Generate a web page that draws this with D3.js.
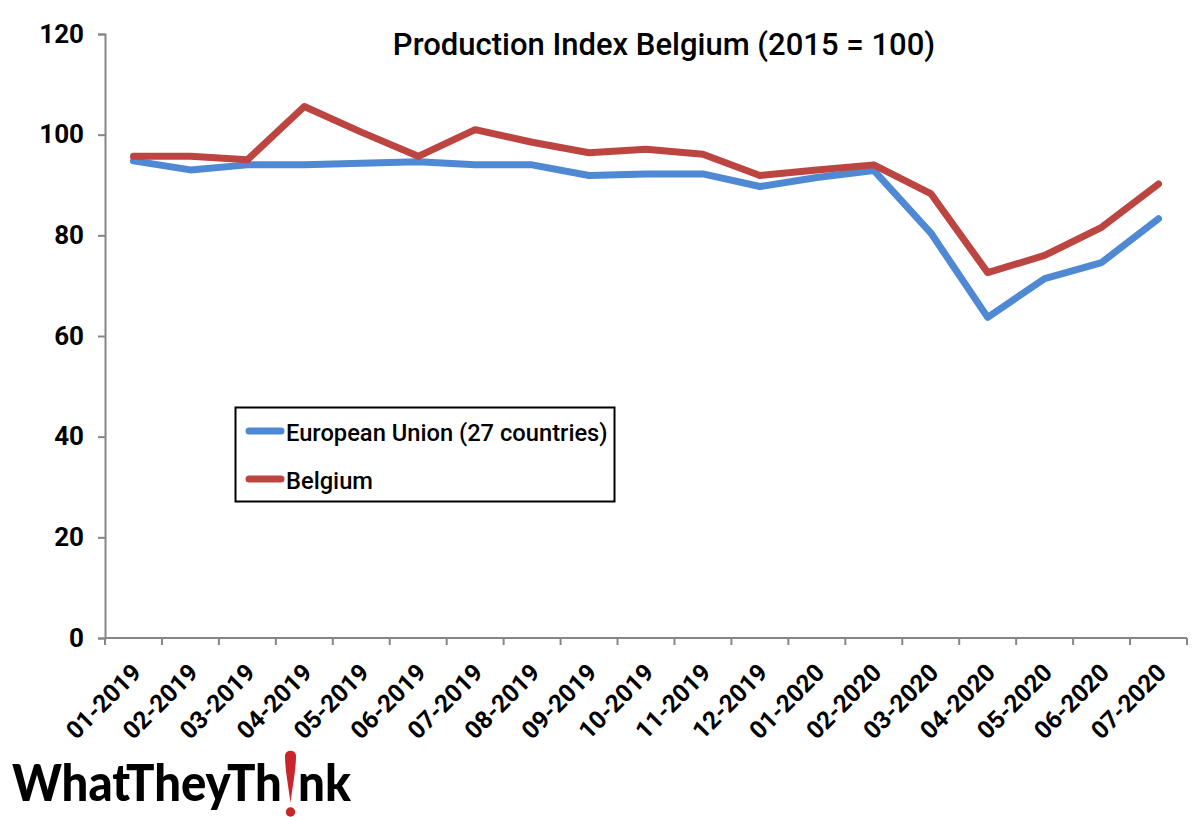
<!DOCTYPE html>
<html>
<head>
<meta charset="utf-8">
<script src="https://cdn.jsdelivr.net/npm/d3@7/dist/d3.min.js"></script>
<style>
  html, body { margin: 0; padding: 0; background: #fff; }
  text { font-family: "Roboto", "Liberation Sans", sans-serif; fill: #000; }
</style>
</head>
<body>
<script>
// Production index
var months = ["01-2019","02-2019","03-2019","04-2019","05-2019","06-2019","07-2019","08-2019","09-2019","10-2019",
              "11-2019","12-2019","01-2020","02-2020","03-2020","04-2020","05-2020","06-2020","07-2020"];
var euValues = [94.8,93,94,94,94.3,94.6,94,94,91.9,92.2,92.2,89.7,91.5,92.9,80.5,63.7,71.4,74.6,83.3];
var belgiumValues = [95.7,95.7,95,105.6,100.5,95.7,101,98.5,96.4,97.1,96.1,91.9,93,94,88.3,72.6,76,81.6,90.2];
var yTicks = [0,20,40,60,80,100,120];
var titleText = "Production Index Belgium (2015 = 100)";
var euLabel = "European Union (27 countries)";
var belgiumLabel = "Belgium";

var blue = "#4f88d3";
var red = "#bd4541";
var axisGrey = "#868686";

var svg = d3.select("body").append("svg")
            .attr("width", 1200)
            .attr("height", 817)
            .style("display", "block");

var x = d3.scaleBand().domain(months).range([105, 1187]);
var y = d3.scaleLinear().domain([0, 120]).range([638, 34]);

// y axis
var yAxis = svg.append("g")
    .attr("transform", "translate(105,0)")
    .call(d3.axisLeft(y).tickValues(yTicks).tickSize(7).tickPadding(14));
yAxis.selectAll("path, line").attr("stroke", axisGrey).attr("stroke-width", 2);
yAxis.selectAll("text")
    .style("font-size", "26px").style("font-weight", 700).style("font-family", "Roboto").attr("fill", "#000");

// x axis, ticks sit on the band edges
var xAxis = svg.append("g").attr("transform", "translate(0,638)");
xAxis.append("line").attr("x1", 105).attr("x2", 1187)
    .attr("stroke", axisGrey).attr("stroke-width", 2);
xAxis.selectAll("line.tick").data(months.concat(["end"])).enter().append("line")
    .attr("class", "tick")
    .attr("x1", function(d, i) { return 105 + i * x.step(); })
    .attr("x2", function(d, i) { return 105 + i * x.step(); })
    .attr("y1", 0).attr("y2", 7)
    .attr("stroke", axisGrey).attr("stroke-width", 2);
xAxis.selectAll("text").data(months).enter().append("text")
    .attr("transform", function(d) {
      return "translate(" + (x(d) + x.bandwidth() / 2 - 3) + ",24) rotate(-45)";
    })
    .attr("text-anchor", "end")
    .attr("dy", "0.7em")
    .style("font-size", "24.5px")
    .style("font-weight", 700)
    .text(function(d) { return d; });

// lines
var line = d3.line()
    .x(function(d, i) { return x(months[i]) + x.bandwidth() / 2; })
    .y(function(d) { return y(d); });

svg.append("path").datum(euValues)
    .attr("d", line).attr("fill", "none")
    .attr("stroke", blue).attr("stroke-width", 7).attr("stroke-linejoin", "round").attr("stroke-linecap", "round");
svg.append("path").datum(belgiumValues)
    .attr("d", line).attr("fill", "none")
    .attr("stroke", red).attr("stroke-width", 7).attr("stroke-linejoin", "round").attr("stroke-linecap", "round");

// title
svg.append("text")
    .attr("x", 664).attr("y", 55)
    .attr("text-anchor", "middle")
    .style("font-size", "31px")
    .style("font-weight", 500)
    .text(titleText);

// legend
var legend = svg.append("g");
legend.append("rect")
    .attr("x", 235.5).attr("y", 407.5).attr("width", 379).attr("height", 94)
    .attr("fill", "#fff").attr("stroke", "#000").attr("stroke-width", 2);
[[euLabel, blue, 431], [belgiumLabel, red, 479]].forEach(function(row) {
  legend.append("line")
      .attr("x1", 249).attr("x2", 281).attr("y1", row[2]).attr("y2", row[2])
      .attr("stroke", row[1]).attr("stroke-width", 7).attr("stroke-linecap", "round");
  legend.append("text")
      .attr("x", 286).attr("y", row[2] + 10)
      .style("font-size", "23.7px")
      .style("font-weight", 500)
      .text(row[0]);
});

// logo, the red exclamation mark is a drawn shape between the two words
var logo = svg.append("g").attr("aria-label", "WhatTheyTh!nk");

// squeeze a logo word to the width it has in the picture
function logoWord(word, left, width) {
  var t = logo.append("text")
      .style("font-family", "Lato").style("font-size", "52px").style("font-weight", 900)
      .text(word);
  var sx = width / t.node().getComputedTextLength();
  t.attr("transform", "translate(" + left + ",801) scale(" + sx + ",1)");
}
logoWord("WhatTheyTh", 12, 270);
logoWord("nk", 298, 53);

logo.append("path")
    .attr("d", "M285 756 C285 749 296 749 296 756 C296 770 292 790 290.5 803 C289 790 285 770 285 756 Z")
    .attr("fill", "#c9262c");
logo.append("circle")
    .attr("cx", 290.5).attr("cy", 812).attr("r", 4.7)
    .attr("fill", "#c9262c");
</script>
</body>
</html>
